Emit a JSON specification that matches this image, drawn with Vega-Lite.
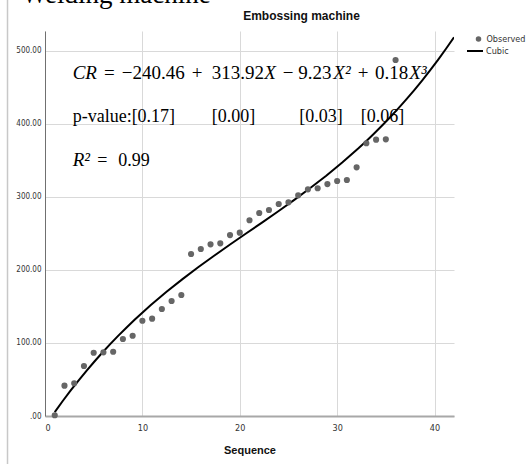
{
  "$schema": "https://vega.github.io/schema/vega-lite/v6.json",
  "width": 409,
  "height": 385,
  "autosize": {"type": "none"},
  "padding": {"left": 45, "top": 31, "right": 73, "bottom": 48},
  "background": "white",
  "title": {
    "text": "Embossing machine",
    "anchor": "middle",
    "frame": "group",
    "dx": 52,
    "dy": 64,
    "fontSize": 12,
    "font": "Liberation Sans",
    "fontWeight": "bold",
    "color": "#111111",
    "baseline": "bottom",
    "offset": 10
  },
  "datasets": {
    "observed": [
      {"sequence": 1, "cr": 1, "series": "Observed"},
      {"sequence": 2, "cr": 41.5, "series": "Observed"},
      {"sequence": 3, "cr": 44.8, "series": "Observed"},
      {"sequence": 4, "cr": 68.4, "series": "Observed"},
      {"sequence": 5, "cr": 86.6, "series": "Observed"},
      {"sequence": 6, "cr": 87.2, "series": "Observed"},
      {"sequence": 7, "cr": 88.0, "series": "Observed"},
      {"sequence": 8, "cr": 105.4, "series": "Observed"},
      {"sequence": 9, "cr": 109.9, "series": "Observed"},
      {"sequence": 10, "cr": 130.4, "series": "Observed"},
      {"sequence": 11, "cr": 133.2, "series": "Observed"},
      {"sequence": 12, "cr": 146.5, "series": "Observed"},
      {"sequence": 13, "cr": 157.4, "series": "Observed"},
      {"sequence": 14, "cr": 165.6, "series": "Observed"},
      {"sequence": 15, "cr": 221.7, "series": "Observed"},
      {"sequence": 16, "cr": 228.6, "series": "Observed"},
      {"sequence": 17, "cr": 235.0, "series": "Observed"},
      {"sequence": 18, "cr": 236.4, "series": "Observed"},
      {"sequence": 19, "cr": 247.7, "series": "Observed"},
      {"sequence": 20, "cr": 250.9, "series": "Observed"},
      {"sequence": 21, "cr": 267.9, "series": "Observed"},
      {"sequence": 22, "cr": 277.9, "series": "Observed"},
      {"sequence": 23, "cr": 282.0, "series": "Observed"},
      {"sequence": 24, "cr": 290.2, "series": "Observed"},
      {"sequence": 25, "cr": 292.5, "series": "Observed"},
      {"sequence": 26, "cr": 302.1, "series": "Observed"},
      {"sequence": 27, "cr": 310.3, "series": "Observed"},
      {"sequence": 28, "cr": 311.7, "series": "Observed"},
      {"sequence": 29, "cr": 317.5, "series": "Observed"},
      {"sequence": 30, "cr": 321.7, "series": "Observed"},
      {"sequence": 31, "cr": 323.0, "series": "Observed"},
      {"sequence": 32, "cr": 340.4, "series": "Observed"},
      {"sequence": 33, "cr": 373.3, "series": "Observed"},
      {"sequence": 34, "cr": 378.2, "series": "Observed"},
      {"sequence": 35, "cr": 378.7, "series": "Observed"},
      {"sequence": 36, "cr": 487.3, "series": "Observed"}
    ],
    "equation": [
      {"x": 6.06, "y": 461.3, "text": "="},
      {"x": 7.88, "y": 461.3, "text": "−240.46"},
      {"x": 15.06, "y": 461.3, "text": "+"},
      {"x": 17.12, "y": 461.3, "text": "313.92"},
      {"x": 24.41, "y": 461.3, "text": "−"},
      {"x": 26.01, "y": 461.3, "text": "9.23"},
      {"x": 32.11, "y": 461.3, "text": "+"},
      {"x": 33.89, "y": 461.3, "text": "0.18"}
    ],
    "upright": [
      {"x": 2.84, "y": 402.8, "text": "p-value:[0.17]"},
      {"x": 17.12, "y": 402.8, "text": "[0.00]"},
      {"x": 26.11, "y": 402.8, "text": "[0.03]"},
      {"x": 32.42, "y": 402.8, "text": "[0.06]"},
      {"x": 5.37, "y": 342.2, "text": "="},
      {"x": 7.53, "y": 342.2, "text": "0.99"}
    ],
    "italic": [
      {"x": 2.84, "y": 461.3, "text": "CR"},
      {"x": 22.52, "y": 461.3, "text": "X"},
      {"x": 29.61, "y": 461.3, "text": "X²"},
      {"x": 37.41, "y": 461.3, "text": "X³"},
      {"x": 2.84, "y": 342.2, "text": "R²"}
    ],
    "page": [
      {"x": -2.4, "y": 566, "text": "Welding machine"}
    ],
    "border": [
      {"x": -3.85, "y": 575, "y2": -70}
    ]
  },
  "layer": [
    {
      "data": {"name": "border"},
      "mark": {"type": "rule", "color": "#c8c8c8", "strokeWidth": 1.5, "clip": false},
      "encoding": {
        "x": {"field": "x", "type": "quantitative"},
        "y": {"field": "y", "type": "quantitative"},
        "y2": {"field": "y2"}
      }
    },
    {
      "data": {"name": "observed"},
      "transform": [
        {"regression": "cr", "on": "sequence", "method": "poly", "order": 3, "extent": [1, 42]}
      ],
      "mark": {"type": "line", "strokeWidth": 2, "clip": true},
      "encoding": {
        "x": {"field": "sequence", "type": "quantitative"},
        "y": {"field": "cr", "type": "quantitative"},
        "color": {
          "datum": "Cubic",
          "type": "nominal",
          "scale": {"domain": ["Cubic"], "range": ["#000000"]},
          "legend": {
            "title": null,
            "orient": "none",
            "legendX": 421,
            "legendY": 11,
            "padding": 0,
            "symbolType": "stroke",
            "symbolSize": 256,
            "symbolStrokeWidth": 2,
            "labelOffset": 2,
            "labelFont": "Liberation Sans Narrow, DejaVu Sans Condensed, sans-serif",
            "labelFontSize": 9,
            "labelColor": "#333333"
          }
        }
      }
    },
    {
      "data": {"name": "observed"},
      "mark": {"type": "point", "filled": true, "size": 38, "opacity": 1},
      "encoding": {
        "x": {
          "field": "sequence",
          "type": "quantitative",
          "scale": {"domain": [0, 42], "nice": false, "zero": false},
          "axis": {
            "values": [0, 10, 20, 30, 40],
            "grid": true,
            "gridColor": "#d9d9d9",
            "gridWidth": 1,
            "domainColor": "#a8a8a8",
            "domainWidth": 2,
            "ticks": false,
            "labelFont": "Liberation Sans Narrow, DejaVu Sans Condensed, sans-serif",
            "labelFontSize": 9,
            "labelColor": "#333333",
            "labelPadding": 7,
            "title": "Sequence",
            "titleFont": "Liberation Sans",
            "titleFontSize": 11,
            "titleFontWeight": "bold",
            "titleColor": "#111111",
            "titlePadding": 12
          }
        },
        "y": {
          "field": "cr",
          "type": "quantitative",
          "scale": {"domain": [0, 527], "nice": false, "zero": false},
          "axis": {
            "values": [0, 100, 200, 300, 400, 500],
            "labelExpr": "datum.value === 0 ? '.00' : format(datum.value, '.2f')",
            "grid": true,
            "gridColor": "#d9d9d9",
            "gridWidth": 1,
            "domainColor": "#707070",
            "domainWidth": 1,
            "ticks": false,
            "labelFont": "Liberation Sans Narrow, DejaVu Sans Condensed, sans-serif",
            "labelFontSize": 8,
            "labelColor": "#333333",
            "labelPadding": 4,
            "title": null
          }
        },
        "color": {
          "field": "series",
          "type": "nominal",
          "scale": {"domain": ["Observed"], "range": ["#666666"]},
          "legend": {
            "title": null,
            "orient": "none",
            "legendX": 429,
            "legendY": 3.5,
            "padding": 0,
            "symbolType": "circle",
            "symbolSize": 30,
            "labelOffset": 3.5,
            "labelFont": "Liberation Sans Narrow, DejaVu Sans Condensed, sans-serif",
            "labelFontSize": 9,
            "labelColor": "#333333"
          }
        }
      }
    },
    {
      "data": {"name": "equation"},
      "mark": {"type": "text", "align": "left", "baseline": "alphabetic", "font": "Liberation Serif", "fontSize": 19, "color": "#000000"},
      "encoding": {
        "x": {"field": "x", "type": "quantitative"},
        "y": {"field": "y", "type": "quantitative"},
        "text": {"field": "text"}
      }
    },
    {
      "data": {"name": "upright"},
      "mark": {"type": "text", "align": "left", "baseline": "alphabetic", "font": "Liberation Serif", "fontSize": 18, "color": "#000000"},
      "encoding": {
        "x": {"field": "x", "type": "quantitative"},
        "y": {"field": "y", "type": "quantitative"},
        "text": {"field": "text"}
      }
    },
    {
      "data": {"name": "italic"},
      "mark": {"type": "text", "align": "left", "baseline": "alphabetic", "font": "Liberation Serif", "fontSize": 19, "fontStyle": "italic", "color": "#000000"},
      "encoding": {
        "x": {"field": "x", "type": "quantitative"},
        "y": {"field": "y", "type": "quantitative"},
        "text": {"field": "text"}
      }
    },
    {
      "data": {"name": "page"},
      "mark": {"type": "text", "align": "left", "baseline": "alphabetic", "font": "Liberation Serif", "fontSize": 27, "color": "#000000"},
      "encoding": {
        "x": {"field": "x", "type": "quantitative"},
        "y": {"field": "y", "type": "quantitative"},
        "text": {"field": "text"}
      }
    }
  ],
  "resolve": {"scale": {"color": "independent"}, "legend": {"color": "independent"}},
  "config": {
    "view": {"stroke": null}
  }
}
